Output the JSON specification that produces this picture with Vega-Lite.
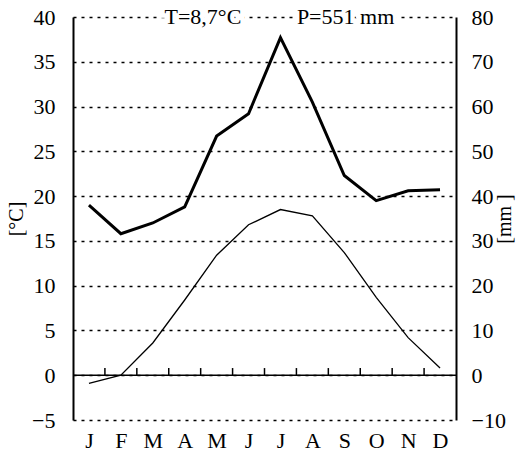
{
  "$schema": "https://vega.github.io/schema/vega-lite/v6.json",
  "width": 383,
  "height": 403,
  "autosize": {"type": "none"},
  "padding": {"left": 73, "top": 17, "right": 61, "bottom": 40},
  "config": {
    "view": {"stroke": null},
    "font": "Liberation Serif",
    "style": {"guide-label": {"font": "Liberation Serif"}, "guide-title": {"font": "Liberation Serif"}},
    "axis": {"labelFont": "Liberation Serif", "titleFont": "Liberation Serif", "labelColor": "black", "titleColor": "black", "domainColor": "black", "tickColor": "black", "labelOverlap": false, "labelFlush": false}
  },
  "datasets": {
    "climate": [
      {"m": 1, "month": "J", "T": -0.9, "P": 38.0},
      {"m": 2, "month": "F", "T": 0.0, "P": 31.6},
      {"m": 3, "month": "M", "T": 3.6, "P": 34.0},
      {"m": 4, "month": "A", "T": 8.4, "P": 37.6},
      {"m": 5, "month": "M", "T": 13.4, "P": 53.4},
      {"m": 6, "month": "J", "T": 16.8, "P": 58.4},
      {"m": 7, "month": "J", "T": 18.5, "P": 75.4},
      {"m": 8, "month": "A", "T": 17.8, "P": 61.0},
      {"m": 9, "month": "S", "T": 13.7, "P": 44.6},
      {"m": 10, "month": "O", "T": 8.7, "P": 39.0},
      {"m": 11, "month": "N", "T": 4.2, "P": 41.2},
      {"m": 12, "month": "D", "T": 0.8, "P": 41.4}
    ],
    "ticks": [
      {"m": 1.5, "T": 0, "T2": 0.8}, {"m": 2.5, "T": 0, "T2": 0.8}, {"m": 3.5, "T": 0, "T2": 0.8},
      {"m": 4.5, "T": 0, "T2": 0.8}, {"m": 5.5, "T": 0, "T2": 0.8}, {"m": 6.5, "T": 0, "T2": 0.8},
      {"m": 7.5, "T": 0, "T2": 0.8}, {"m": 8.5, "T": 0, "T2": 0.8}, {"m": 9.5, "T": 0, "T2": 0.8},
      {"m": 10.5, "T": 0, "T2": 0.8}, {"m": 11.5, "T": 0, "T2": 0.8}
    ],
    "notes": [
      {"label": "T=8,7°C", "m": 4.57, "T": 40},
      {"label": "P=551 mm", "m": 9.04, "T": 40}
    ],
    "zero": [{"m": 0.5, "m2": 12.5, "T": 0}]
  },
  "encoding": {
    "x": {
      "field": "m", "type": "quantitative",
      "scale": {"domain": [0.5, 12.5], "nice": false, "zero": false},
      "axis": {
        "values": [1, 2, 3, 4, 5, 6, 7, 8, 9, 10, 11, 12],
        "labelExpr": "['J','F','M','A','M','J','J','A','S','O','N','D'][datum.value - 1]",
        "domain": false, "ticks": false, "grid": false, "title": null,
        "labelFont": "Liberation Serif", "labelFontSize": 22, "labelPadding": 10, "labelFlush": false, "labelOverlap": false
      }
    }
  },
  "layer": [
    {
      "encoding": {
        "y": {
          "field": "T", "type": "quantitative",
          "scale": {"domain": [-5, 40], "nice": false, "zero": false},
          "axis": {
            "values": [-5, 0, 5, 10, 15, 20, 25, 30, 35, 40],
            "labelExpr": "datum.value < 0 ? '\u2212' + abs(datum.value) : datum.label",
            "title": "[°C]", "titleFont": "Liberation Serif", "titleFontSize": 20, "titleFontWeight": "normal", "titlePadding": 5,
            "labelFont": "Liberation Serif", "labelFontSize": 22, "labelPadding": 18, "labelFlush": false, "labelOverlap": false,
            "domainWidth": 2, "ticks": false,
            "grid": true, "gridColor": "black", "gridDash": [3, 5], "gridWidth": 1.5, "gridOpacity": 1
          }
        }
      },
      "layer": [
        {
          "data": {"name": "climate"},
          "mark": {"type": "line", "color": "black", "strokeWidth": 1.3}
        },
        {
          "data": {"name": "zero"},
          "mark": {"type": "rule", "color": "black", "strokeWidth": 1.5},
          "encoding": {"x2": {"field": "m2"}}
        },
        {
          "data": {"name": "ticks"},
          "mark": {"type": "rule", "color": "black", "strokeWidth": 1.5},
          "encoding": {"y2": {"field": "T2"}}
        },
        {
          "data": {"name": "notes"},
          "mark": {"type": "text", "fontSize": 22, "font": "Liberation Serif", "fill": "white", "stroke": "white", "strokeWidth": 9, "baseline": "middle", "align": "center"},
          "encoding": {"text": {"field": "label"}}
        },
        {
          "data": {"name": "notes"},
          "mark": {"type": "text", "fontSize": 22, "font": "Liberation Serif", "color": "black", "baseline": "middle", "align": "center"},
          "encoding": {"text": {"field": "label"}}
        }
      ]
    },
    {
      "data": {"name": "climate"},
      "mark": {"type": "line", "color": "black", "strokeWidth": 3},
      "encoding": {
        "y": {
          "field": "P", "type": "quantitative",
          "scale": {"domain": [-10, 80], "nice": false, "zero": false},
          "axis": {
            "orient": "right",
            "values": [-10, 0, 10, 20, 30, 40, 50, 60, 70, 80],
            "title": "[mm ]", "titleAngle": 270, "titleFont": "Liberation Serif", "titleFontSize": 20, "titleFontWeight": "normal", "titlePadding": 9,
            "labelFont": "Liberation Serif", "labelFontSize": 22, "labelPadding": 15, "labelFlush": false, "labelOverlap": false,
            "domainWidth": 2, "ticks": false, "grid": false
          }
        }
      }
    }
  ],
  "resolve": {"scale": {"y": "independent"}}
}
